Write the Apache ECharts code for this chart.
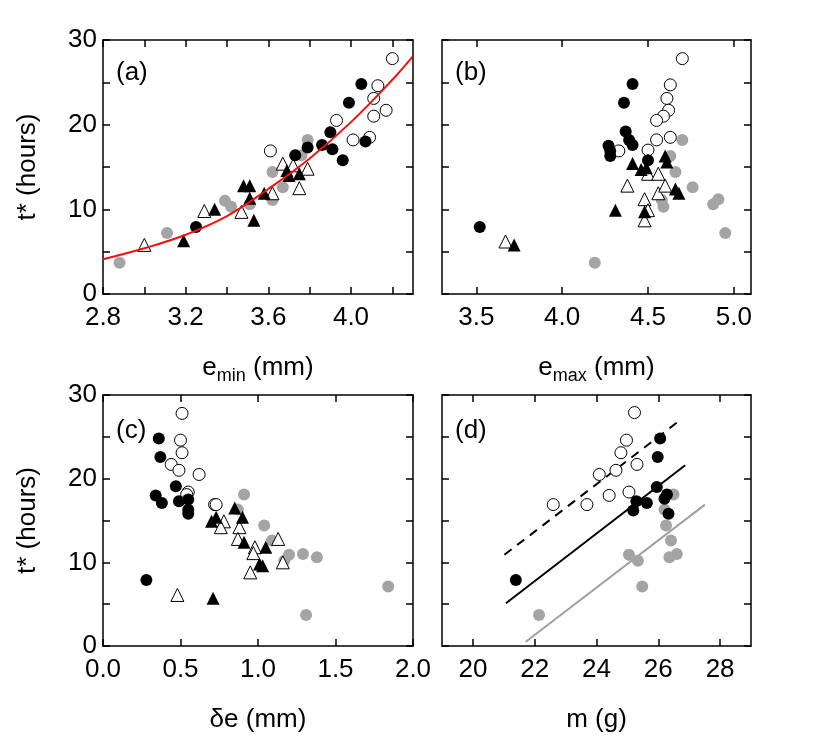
<!DOCTYPE html>
<html>
<head>
<meta charset="utf-8">
<script src="https://cdn.jsdelivr.net/npm/echarts@6/dist/echarts.min.js"></script>
<style>
  html, body { margin: 0; padding: 0; background: #fff; }
  #chart { width: 830px; height: 748px; }
</style>
</head>
<body>
<div id="chart"></div>
<script>
  // tick labels / ticks
  var tLabels = [0, 10, 20, 30];
  var tTicks = [0, 5, 10, 15, 20, 25, 30];
  var eminLabels = [2.8, 3.2, 3.6, 4.0];
  var eminTicks = [2.8, 3.0, 3.2, 3.4, 3.6, 3.8, 4.0, 4.2];
  var emaxLabels = [3.5, 4.0, 4.5, 5.0];
  var deLabels = [0.0, 0.5, 1.0, 1.5, 2.0];
  var mLabels = [20, 22, 24, 26, 28];

  // (a) t* vs e_min
  var aGray = [[2.88,3.7],[3.11,7.2],[3.39,11.0],[3.42,10.3],[3.51,10.6],[3.62,14.4],[3.62,11.1],[3.67,12.6],[3.76,16.4],[3.79,18.2]];
  var aOpen = [[3.61,16.9],[3.93,20.5],[4.01,18.2],[4.09,18.5],[4.11,21.0],[4.11,23.1],[4.13,24.6],[4.17,21.7],[4.20,27.8]];
  var aTriOpen = [[3.00,5.8],[3.29,9.8],[3.47,9.7],[3.62,11.9],[3.67,15.4],[3.72,15.2],[3.75,12.5],[3.79,14.8]];
  var aTriFill = [[3.19,6.3],[3.34,10.0],[3.48,12.8],[3.51,12.8],[3.51,11.3],[3.53,8.7],[3.58,11.9],[3.69,14.6],[3.70,14.0],[3.75,14.2]];
  var aBlack = [[3.25,7.9],[3.73,16.4],[3.79,17.3],[3.86,17.6],[3.90,19.1],[3.91,17.1],[3.96,15.8],[3.99,22.6],[4.05,24.8],[4.07,18.0]];
  var aFit = [[2.8,4.1],[3.0,5.4],[3.2,7.0],[3.4,9.2],[3.6,12.4],[3.8,16.0],[4.0,20.3],[4.2,25.3],[4.3,28.1]];

  // (b) t* vs e_max
  var bGray = [[4.19,3.7],[4.70,18.2],[4.63,16.3],[4.66,14.4],[4.76,12.6],[4.58,11.1],[4.59,10.3],[4.88,10.6],[4.91,11.2],[4.95,7.2]];
  var bOpen = [[4.70,27.8],[4.63,24.7],[4.61,23.1],[4.62,21.7],[4.59,21.0],[4.55,20.5],[4.55,18.2],[4.63,18.5],[4.50,17.0],[4.33,16.9]];
  var bTriOpen = [[3.67,6.2],[4.38,12.8],[4.48,11.2],[4.50,9.9],[4.48,8.7],[4.50,14.2],[4.56,14.2],[4.56,11.9],[4.60,12.8]];
  var bTriFill = [[3.72,5.8],[4.31,9.9],[4.41,15.4],[4.46,14.7],[4.48,9.7],[4.49,14.9],[4.60,16.3],[4.61,15.6],[4.66,12.4],[4.68,11.9]];
  var bBlack = [[3.52,7.9],[4.27,17.5],[4.28,16.9],[4.28,16.3],[4.36,22.6],[4.41,24.8],[4.37,19.2],[4.39,18.2],[4.41,17.6],[4.50,15.8]];

  // (c) t* vs delta e
  var cGray = [[0.91,18.1],[0.87,16.3],[1.04,14.4],[1.09,12.6],[1.20,10.9],[1.17,10.2],[1.29,11.0],[1.38,10.6],[1.84,7.1],[1.31,3.7]];
  var cOpen = [[0.51,27.8],[0.50,24.6],[0.51,23.1],[0.44,21.7],[0.49,21.0],[0.62,20.5],[0.55,18.4],[0.54,18.1],[0.72,16.9],[0.73,16.9]];
  var cTriOpen = [[0.48,6.1],[0.78,14.9],[0.76,14.2],[0.88,14.2],[0.87,12.8],[0.98,11.8],[0.97,11.1],[0.95,8.8],[1.13,12.8],[1.16,10.0]];
  var cTriFill = [[0.71,5.7],[0.70,14.9],[0.73,15.4],[0.85,16.5],[0.90,15.4],[0.91,12.4],[1.01,9.8],[1.03,9.6],[1.05,11.8]];
  var cBlack = [[0.28,7.9],[0.36,24.8],[0.37,22.6],[0.34,18.0],[0.38,17.1],[0.47,19.1],[0.49,17.3],[0.55,17.5],[0.55,16.3],[0.55,15.8]];

  // (d) t* vs m
  var dGray = [[22.14,3.7],[25.05,10.9],[25.34,10.2],[25.48,7.1],[26.20,16.3],[26.25,14.4],[26.41,12.6],[26.49,18.1],[26.36,10.6],[26.60,11.0]];
  var dOpen = [[25.23,27.9],[24.97,24.6],[24.79,23.1],[24.09,20.5],[24.63,21.0],[25.31,21.7],[24.41,18.0],[25.05,18.4],[23.69,16.9],[22.60,16.9]];
  var dBlack = [[21.39,7.9],[25.29,17.3],[25.19,16.2],[25.63,17.1],[25.95,19.0],[25.98,22.6],[26.06,24.8],[26.20,17.6],[26.33,15.8],[26.28,18.1]];
  var dDashed = [[21.02,10.9],[26.60,26.7]];
  var dSolid = [[21.07,5.1],[26.87,21.6]];
  var dGrayLine = [[21.71,0.5],[27.51,16.9]];

  var font = '"Liberation Sans", Arial, Helvetica, sans-serif';
  var lineW = 1.5;

  function xPair(grid, min, max, labels, ticks, fmt, name, gap) {
    var base = {
      type: 'value', gridIndex: grid, min: min, max: max,
      splitLine: { show: false },
      axisLine: { onZero: false, lineStyle: { color: '#000', width: lineW } },
      axisTick: { inside: true, length: 7, customValues: ticks, lineStyle: { color: '#000', width: lineW } }
    };
    var bottom = Object.assign({}, base, {
      position: 'bottom',
      name: name, nameLocation: 'middle', nameGap: gap,
      nameTextStyle: {
        fontFamily: font, fontSize: 26, color: '#000',
        rich: { sub: { fontFamily: font, fontSize: 18, color: '#000', padding: [16, 0, 0, 0] } }
      },
      axisLabel: { customValues: labels, formatter: fmt, margin: 11, fontFamily: font, fontSize: 26, color: '#000' }
    });
    var top = Object.assign({}, base, { position: 'top', axisLabel: { show: false } });
    return [bottom, top];
  }

  function yPair(grid, showName) {
    var base = {
      type: 'value', gridIndex: grid, min: 0, max: 30,
      splitLine: { show: false },
      axisLine: { onZero: false, lineStyle: { color: '#000', width: lineW } },
      axisTick: { inside: true, length: 7, customValues: tTicks, lineStyle: { color: '#000', width: lineW } }
    };
    var left = Object.assign({}, base, {
      position: 'left',
      name: showName ? 't* (hours)' : '', nameLocation: 'middle', nameGap: 62, nameRotate: 90,
      nameTextStyle: { fontFamily: font, fontSize: 26, color: '#000' },
      axisLabel: { show: showName, customValues: tLabels, margin: 6, fontFamily: font, fontSize: 26, color: '#000' }
    });
    var right = Object.assign({}, base, { position: 'right', axisLabel: { show: false } });
    return [left, right];
  }

  var f1 = function (v) { return v.toFixed(1); };
  var f0 = function (v) { return String(v); };

  var xAxis = [].concat(
    xPair(0, 2.8, 4.3, eminLabels, eminTicks, f1, 'e{sub|min} (mm)', 57),
    xPair(1, 3.3, 5.1, emaxLabels, emaxLabels, f1, 'e{sub|max} (mm)', 57),
    xPair(2, 0, 2, deLabels, deLabels, f1, 'δe (mm)', 61),
    xPair(3, 19, 29, mLabels, mLabels, f0, 'm (g)', 61)
  );
  var yAxis = [].concat(yPair(0, true), yPair(1, false), yPair(2, true), yPair(3, false));

  function pts(data, k, sym, fill, border) {
    return {
      type: 'scatter', xAxisIndex: 2 * k, yAxisIndex: 2 * k, data: data,
      symbol: sym, symbolSize: sym === 'triangle' ? 13 : 12,
      itemStyle: { color: fill, borderColor: border || fill, borderWidth: border ? 1 : 0, opacity: 1 },
      z: 3
    };
  }

  function line(data, k, color, width, dash, smooth) {
    return {
      type: 'line', xAxisIndex: 2 * k, yAxisIndex: 2 * k, data: data,
      showSymbol: false, symbol: 'none', smooth: smooth || false,
      lineStyle: { color: color, width: width, type: dash ? [9, 7] : 'solid' },
      z: 2
    };
  }

  var gray = '#a4a4a4';
  var series = [];
  var groups = [
    [aGray, aOpen, aTriOpen, aTriFill, aBlack],
    [bGray, bOpen, bTriOpen, bTriFill, bBlack],
    [cGray, cOpen, cTriOpen, cTriFill, cBlack],
    [dGray, dOpen, null, null, dBlack]
  ];
  series.push(line(dDashed, 3, '#000', 2, true));
  series.push(line(dSolid, 3, '#000', 2, false));
  series.push(line(dGrayLine, 3, '#a0a0a0', 2, false));
  groups.forEach(function (g, k) {
    series.push(pts(g[0], k, 'circle', gray));
    series.push(pts(g[1], k, 'circle', '#fff', '#000'));
    if (g[2]) series.push(pts(g[2], k, 'triangle', '#fff', '#000'));
    if (g[3]) series.push(pts(g[3], k, 'triangle', '#000'));
    series.push(pts(g[4], k, 'circle', '#000'));
  });
  var fit = line(aFit, 0, '#f01010', 2, false, 0.4);
  fit.z = 4;
  series.push(fit);

  var panelLabels = [['(a)', 116, 74], ['(b)', 455, 74], ['(c)', 116, 432], ['(d)', 455, 432]];

  var chart = echarts.init(document.getElementById('chart'), null, { renderer: 'canvas' });
  chart.setOption({
    animation: false,
    backgroundColor: '#fff',
    grid: [
      { left: 103, top: 40, width: 310, height: 254, outerBoundsMode: 'none', containLabel: false },
      { left: 442, top: 40, width: 309, height: 254, outerBoundsMode: 'none', containLabel: false },
      { left: 103, top: 395, width: 310, height: 251, outerBoundsMode: 'none', containLabel: false },
      { left: 442, top: 395, width: 309, height: 251, outerBoundsMode: 'none', containLabel: false }
    ],
    xAxis: xAxis,
    yAxis: yAxis,
    graphic: panelLabels.map(function (p) {
      return {
        type: 'text', left: p[1], top: p[2] - 14, z: 10,
        style: { text: p[0], fontFamily: font, fontSize: 26, fill: '#000' }
      };
    }),
    series: series
  });
</script>
</body>
</html>
